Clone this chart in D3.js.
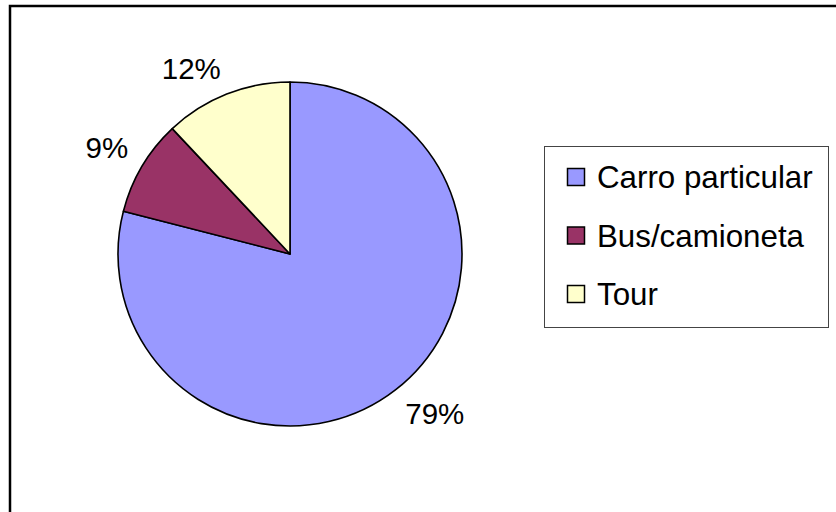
<!DOCTYPE html>
<html>
<head>
<meta charset="utf-8">
<script src="https://cdn.jsdelivr.net/npm/d3@7"></script>
<style>
  html, body { margin: 0; padding: 0; background: #fff; }
  svg { display: block; font-family: "Liberation Sans", Arial, sans-serif; }
</style>
</head>
<body>
<div id="chart"></div>
<script>
// data
const categories = ['Carro particular', 'Bus/camioneta', 'Tour'];
const values = [79, 9, 12];
const colors = ['#9999FF', '#993366', '#FFFFCC'];

const width = 836, height = 512;
const cx = 290, cy = 254, radius = 172;
const labelSize = 29.5;

const svg = d3.select('#chart')
  .append('svg')
  .attr('width', width)
  .attr('height', height);

// chart frame (cropped at right and bottom)
svg.append('rect')
  .attr('x', 10)
  .attr('y', 6)
  .attr('width', width + 20)
  .attr('height', height + 20)
  .attr('fill', 'none')
  .attr('stroke', '#000')
  .attr('stroke-width', 2.5);

const data = categories.map((c, i) => ({ name: c, value: values[i], color: colors[i] }));

const pie = d3.pie()
  .sort(null)
  .value(d => d.value);

const arc = d3.arc()
  .innerRadius(0)
  .outerRadius(radius);

// anchor circle for the labels, the label box corner sits on it
const labelArc = d3.arc()
  .innerRadius(188)
  .outerRadius(188);

const graph = svg.append('g')
  .attr('transform', `translate(${cx}, ${cy})`);

const arcs = pie(data);

graph.selectAll('path')
  .data(arcs)
  .enter()
  .append('path')
  .attr('d', arc)
  .attr('fill', d => d.data.color)
  .attr('stroke', '#000')
  .attr('stroke-width', 1.6)
  .attr('stroke-linejoin', 'round');

const total = d3.sum(values);

graph.selectAll('text.label')
  .data(arcs)
  .enter()
  .append('text')
  .attr('class', 'label')
  .attr('text-anchor', 'middle')
  .attr('dy', '0.36em')
  .attr('font-size', labelSize)
  .attr('fill', '#000')
  .text(d => Math.round(d.data.value / total * 100) + '%')
  .attr('transform', function (d) {
    const [px, py] = labelArc.centroid(d);
    const w = this.getBBox().width;
    const h = labelSize * 0.72;
    const x = px + Math.sign(px) * w / 2;
    const y = py + Math.sign(py) * h / 2;
    return `translate(${x}, ${y})`;
  });

// legend
const legend = svg.append('g')
  .attr('transform', 'translate(544, 146)');

legend.append('rect')
  .attr('x', 0.5)
  .attr('y', 0.5)
  .attr('width', 284)
  .attr('height', 181)
  .attr('fill', '#fff')
  .attr('stroke', '#444')
  .attr('stroke-width', 1);

const rowY = d3.scalePoint()
  .domain(categories)
  .range([31, 148]);

const item = legend.selectAll('g.item')
  .data(data)
  .enter()
  .append('g')
  .attr('class', 'item')
  .attr('transform', d => `translate(0, ${rowY(d.name)})`);

item.append('rect')
  .attr('x', 23.5)
  .attr('y', -8.5)
  .attr('width', 17)
  .attr('height', 17)
  .attr('fill', d => d.color)
  .attr('stroke', '#000')
  .attr('stroke-width', 1.5);

item.append('text')
  .attr('x', 53)
  .attr('dy', '0.36em')
  .attr('font-size', 31.3)
  .attr('fill', '#000')
  .text(d => d.name);
</script>
</body>
</html>
